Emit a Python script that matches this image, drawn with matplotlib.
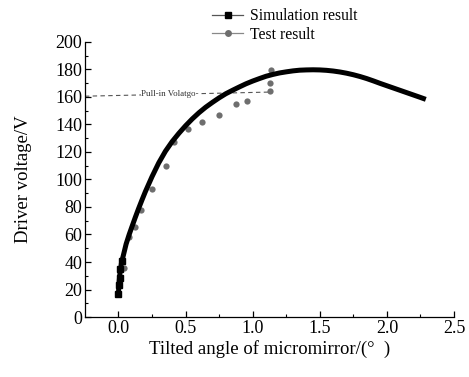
import matplotlib
matplotlib.use("Agg")
import matplotlib.pyplot as plt
from matplotlib.lines import Line2D

plt.rcParams['font.family'] = ['Liberation Serif', 'DejaVu Serif']

# simulation curve
sim_x = [0.000, 0.003, 0.008, 0.015, 0.025, 0.037, 0.057, 0.080, 0.100, 0.125,
         0.150, 0.175, 0.200, 0.250, 0.300, 0.350, 0.400, 0.450, 0.500, 0.550,
         0.600, 0.650, 0.700, 0.750, 0.800, 0.850, 0.900, 0.950, 1.000, 1.050,
         1.100, 1.150, 1.200, 1.250, 1.300, 1.350, 1.400, 1.450, 1.500, 1.550,
         1.600, 1.650, 1.700, 1.750, 1.800, 1.850, 1.900, 1.950, 2.000, 2.050,
         2.100, 2.150, 2.200, 2.250, 2.290]
sim_y = [16.5, 23.0, 28.6, 35.0, 40.5, 45.0, 53.0, 60.0, 65.5, 72.3,
         78.8, 85.0, 91.0, 102.0, 112.0, 120.5, 127.5, 133.5, 139.0, 144.0,
         148.5, 152.5, 156.0, 159.3, 162.3, 164.8, 167.2, 169.5, 171.5, 173.3,
         175.0, 176.3, 177.4, 178.2, 178.9, 179.4, 179.6, 179.7, 179.6, 179.3,
         178.8, 178.1, 177.2, 176.1, 174.8, 173.3, 171.6, 169.8, 168.1, 166.4,
         164.7, 163.0, 161.3, 159.6, 158.2]

# measured points
test_x = [0.045, 0.077, 0.127, 0.169, 0.247, 0.351, 0.413, 0.517, 0.624, 0.749,
          0.876, 0.958, 1.127, 1.127, 1.135]
test_y = [35.4, 58.0, 65.5, 77.5, 93.0, 110.0, 127.0, 137.0, 142.0, 147.0,
          154.8, 157.1, 164.0, 170.0, 179.6]

pull_x = [-0.25, 1.127]
pull_y = [160.5, 163.5]

fig = plt.figure(figsize=(4.69, 3.77), dpi=100)
ax = fig.add_axes([0.181, 0.159, 0.787, 0.730])

ax.plot(pull_x, pull_y, ls=(0, (4, 3)), color='#555555', lw=0.8, zorder=1)
ax.text(0.385, 161.8, 'Pull-in Volatgo-', fontsize=6.5, ha='center', va='center',
        color='#333333', bbox=dict(facecolor='white', edgecolor='none', pad=0.5), zorder=2)

ax.plot(test_x, test_y, 'o', color='#6e6e6e', ms=4.5, mec='none', zorder=3)
ax.plot(sim_x, sim_y, '-', color='black', lw=3.6, solid_capstyle='butt',
        solid_joinstyle='round', zorder=4)
ax.plot(sim_x[:5], sim_y[:5], 's', color='black', ms=4, zorder=5)

ax.set_xlim(-0.25, 2.5)
ax.set_ylim(0, 200)
ax.set_xticks([0.0, 0.5, 1.0, 1.5, 2.0, 2.5])
ax.set_xticks([0.25, 0.75, 1.25, 1.75, 2.25], minor=True)
ax.set_yticks(range(0, 201, 20))
ax.set_yticks(range(10, 200, 20), minor=True)
ax.set_xticklabels(['0.0', '0.5', '1.0', '1.5', '2.0', '2.5'])
ax.tick_params(which='major', direction='in', length=4, width=0.9, labelsize=13)
ax.tick_params(axis='x', which='major', pad=2)
ax.tick_params(axis='y', which='major', pad=2)
ax.tick_params(which='minor', direction='in', length=2.5, width=0.8)
for s in ['top', 'right']:
    ax.spines[s].set_visible(False)
for s in ['left', 'bottom']:
    ax.spines[s].set_linewidth(0.9)

ax.set_xlabel('Tilted angle of micromirror/(°  )', fontsize=13.5, labelpad=2)
ax.set_ylabel('Driver voltage/V', fontsize=13.5, labelpad=17)

handles = [
    Line2D([], [], color='#555555', lw=0.9, marker='s', mfc='black', mec='black', ms=5),
    Line2D([], [], color='#888888', lw=0.9, marker='o', mfc='#6e6e6e', mec='none', ms=5),
]
fig.legend(handles, ['Simulation result', 'Test result'], loc='upper left',
           bbox_to_anchor=(0.422, 1.015), frameon=False, fontsize=11.3,
           handlelength=2.0, handletextpad=0.4, labelspacing=0.15)

fig.savefig('out.png', dpi=100)
